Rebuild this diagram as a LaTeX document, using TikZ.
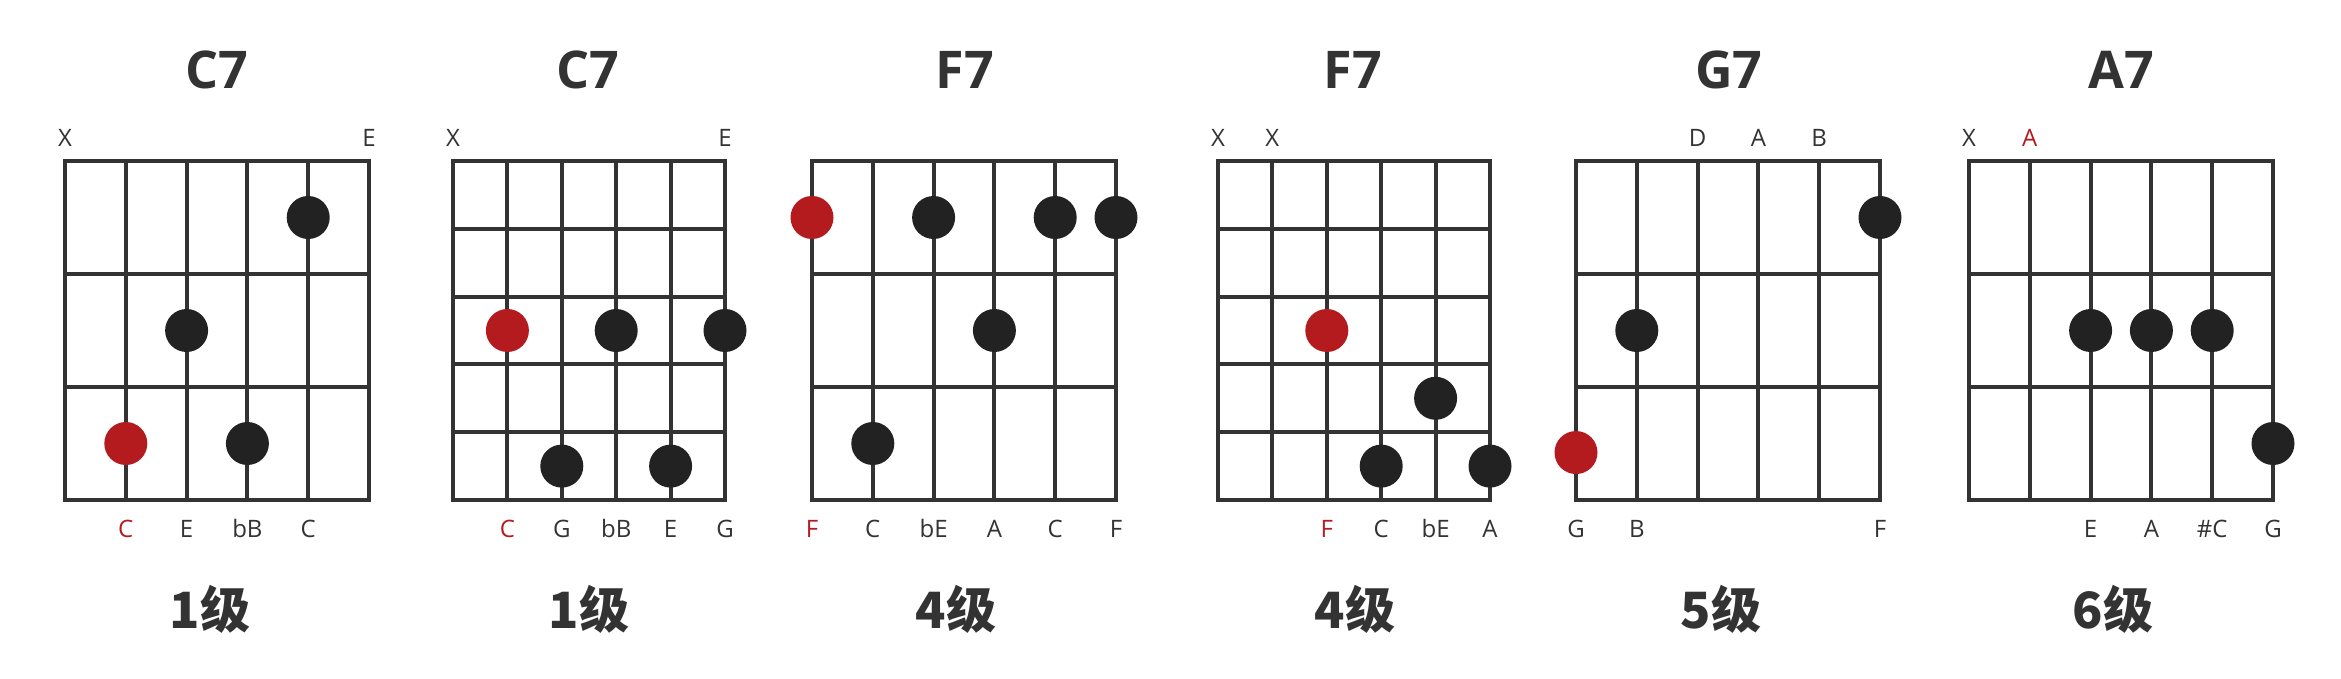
\documentclass[tikz,border=0pt]{standalone}
\usepackage{fontspec}
\setmainfont{Open Sans}
\newfontfamily\cjkfont{Noto Sans CJK SC}
\definecolor{ink}{HTML}{333333}
\definecolor{dotblack}{HTML}{222222}
\definecolor{rootred}{HTML}{B31B1E}
\tikzset{
  gridline/.style={draw=ink, line width=2pt},
  fdot/.style={circle, fill=dotblack, inner sep=0pt, minimum size=21.5pt},
  rdot/.style={fdot, fill=rootred},
  toplab/.style={anchor=base, font=\fontsize{12}{14}\selectfont, text=ink, inner sep=0pt, yshift=7pt},
  botlab/.style={anchor=base, font=\fontsize{12}{14}\selectfont, text=ink, inner sep=0pt, yshift=-18.5pt},
  redtext/.style={text=rootred},
  chordtitle/.style={anchor=base, font=\fontsize{26}{30}\selectfont\bfseries, text=ink, inner sep=0pt},
  degree/.style={anchor=base, font=\cjkfont\bfseries\fontsize{25}{30}\selectfont, text=ink, inner sep=0pt},
}
\newcommand\fretgrid[1]{%
  \draw[gridline] (0,0) rectangle (5,#1);
  \foreach \s in {1,...,4} \draw[gridline] (\s,0) -- (\s,#1);
  \pgfmathtruncatemacro\lastf{#1-1}
  \foreach \f in {1,...,\lastf} \draw[gridline] (0,\f) -- (5,\f);
}
\begin{document}
\begin{tikzpicture}[x=0.5pt,y=-0.5pt]
\useasboundingbox (0,0) rectangle (2341,679);
\fill[white] (0,0) rectangle (2341,679);

% ---------- 1: C7 ----------
\node[chordtitle] (t1) at (217,89) {C7};
\node[degree] (g1) at (210,628) {1级};
\begin{scope}[shift={(65,161)}, x=30.4pt, y=-56.5pt]
  \fretgrid{3}
  \node[toplab] (a1x) at (0,0) {X};
  \node[toplab] (a1e) at (5,0) {E};
  \node[fdot] (d1a) at (4,0.5) {};
  \node[fdot] (d1b) at (2,1.5) {};
  \node[rdot] (d1c) at (1,2.5) {};
  \node[fdot] (d1d) at (3,2.5) {};
  \node[botlab,redtext] (b1a) at (1,3) {C};
  \node[botlab] (b1b) at (2,3) {E};
  \node[botlab] (b1c) at (3,3) {bB};
  \node[botlab] (b1d) at (4,3) {C};
\end{scope}

% ---------- 2: C7 ----------
\node[chordtitle] (t2) at (588,89) {C7};
\node[degree] (g2) at (589,628) {1级};
\begin{scope}[shift={(453,161)}, x=27.2pt, y=-33.9pt]
  \fretgrid{5}
  \node[toplab] (a2x) at (0,0) {X};
  \node[toplab] (a2e) at (5,0) {E};
  \node[rdot] (d2a) at (1,2.5) {};
  \node[fdot] (d2b) at (3,2.5) {};
  \node[fdot] (d2c) at (5,2.5) {};
  \node[fdot] (d2d) at (2,4.5) {};
  \node[fdot] (d2e) at (4,4.5) {};
  \node[botlab,redtext] (b2a) at (1,5) {C};
  \node[botlab] (b2b) at (2,5) {G};
  \node[botlab] (b2c) at (3,5) {bB};
  \node[botlab] (b2d) at (4,5) {E};
  \node[botlab] (b2e) at (5,5) {G};
\end{scope}

% ---------- 3: F7 ----------
\node[chordtitle] (t3) at (965,89) {F7};
\node[degree] (g3) at (956,628) {4级};
\begin{scope}[shift={(812,161)}, x=30.4pt, y=-56.5pt]
  \fretgrid{3}
  \node[rdot] (d3a) at (0,0.5) {};
  \node[fdot] (d3b) at (2,0.5) {};
  \node[fdot] (d3c) at (4,0.5) {};
  \node[fdot] (d3d) at (5,0.5) {};
  \node[fdot] (d3e) at (3,1.5) {};
  \node[fdot] (d3f) at (1,2.5) {};
  \node[botlab,redtext] (b3a) at (0,3) {F};
  \node[botlab] (b3b) at (1,3) {C};
  \node[botlab] (b3c) at (2,3) {bE};
  \node[botlab] (b3d) at (3,3) {A};
  \node[botlab] (b3e) at (4,3) {C};
  \node[botlab] (b3f) at (5,3) {F};
\end{scope}

% ---------- 4: F7 ----------
\node[chordtitle] (t4) at (1353,89) {F7};
\node[degree] (g4) at (1355,628) {4级};
\begin{scope}[shift={(1218,161)}, x=27.2pt, y=-33.9pt]
  \fretgrid{5}
  \node[toplab] (a4x) at (0,0) {X};
  \node[toplab] (a4y) at (1,0) {X};
  \node[rdot] (d4a) at (2,2.5) {};
  \node[fdot] (d4b) at (4,3.5) {};
  \node[fdot] (d4c) at (3,4.5) {};
  \node[fdot] (d4d) at (5,4.5) {};
  \node[botlab,redtext] (b4a) at (2,5) {F};
  \node[botlab] (b4b) at (3,5) {C};
  \node[botlab] (b4c) at (4,5) {bE};
  \node[botlab] (b4d) at (5,5) {A};
\end{scope}

% ---------- 5: G7 ----------
\node[chordtitle] (t5) at (1729,89) {G7};
\node[degree] (g5) at (1721,628) {5级};
\begin{scope}[shift={(1576,161)}, x=30.4pt, y=-56.5pt]
  \fretgrid{3}
  \node[toplab] (a5d) at (2,0) {D};
  \node[toplab] (a5a) at (3,0) {A};
  \node[toplab] (a5b) at (4,0) {B};
  \node[fdot] (d5a) at (5,0.5) {};
  \node[fdot] (d5b) at (1,1.5) {};
  \node[rdot] (d5c) at (0,2.58) {};
  \node[botlab] (b5a) at (0,3) {G};
  \node[botlab] (b5b) at (1,3) {B};
  \node[botlab] (b5c) at (5,3) {F};
\end{scope}

% ---------- 6: A7 ----------
\node[chordtitle] (t6) at (2121,89) {A7};
\node[degree] (g6) at (2113,628) {6级};
\begin{scope}[shift={(1969,161)}, x=30.4pt, y=-56.5pt]
  \fretgrid{3}
  \node[toplab] (a6x) at (0,0) {X};
  \node[toplab,redtext] (a6a) at (1,0) {A};
  \node[fdot] (d6a) at (2,1.5) {};
  \node[fdot] (d6b) at (3,1.5) {};
  \node[fdot] (d6c) at (4,1.5) {};
  \node[fdot] (d6d) at (5,2.5) {};
  \node[botlab] (b6a) at (2,3) {E};
  \node[botlab] (b6b) at (3,3) {A};
  \node[botlab] (b6c) at (4,3) {\#C};
  \node[botlab] (b6d) at (5,3) {G};
\end{scope}
\end{tikzpicture}
\end{document}
